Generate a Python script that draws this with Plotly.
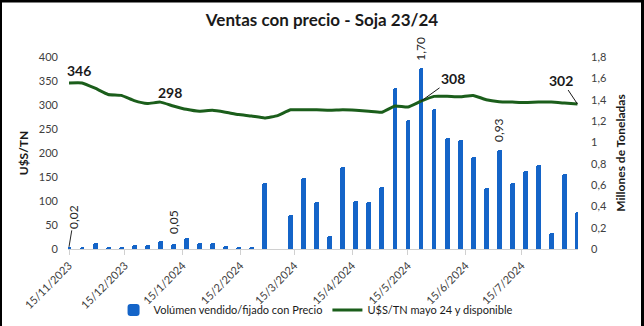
import plotly.graph_objects as go
import pandas as pd

# ---- data ----
start_date = "2023-11-15"
n_weeks = 40
dates = pd.date_range(start_date, periods=n_weeks, freq="7D")

volume_mt = [0.02, 0.02, 0.06, 0.02, 0.02, 0.04, 0.035, 0.075, 0.05, 0.10,
             0.06, 0.06, 0.03, 0.02, 0.02, 0.62, 0.0, 0.32, 0.67, 0.44,
             0.12, 0.77, 0.45, 0.44, 0.58, 1.51, 1.21, 1.70, 1.31, 1.04,
             1.02, 0.86, 0.57, 0.93, 0.62, 0.73, 0.79, 0.15, 0.70, 0.35]

price_usd = [346, 346, 335, 322, 320, 309, 303, 306, 298, 291,
             287, 289, 285, 280, 277, 273, 278, 290, 290, 290,
             289, 290, 289, 287, 285, 298, 296, 308, 318, 318,
             317, 320, 311, 307, 306, 305, 306, 306, 304, 302]

bar_label_idx = [0, 8, 27, 33]
bar_label_txt = ["0,02", "0,05", "1,70", "0,93"]
line_label_idx = [0, 8, 27, 39]
line_label_txt = ["346", "298", "308", "302"]

title_txt = "Ventas con precio - Soja 23/24"
bar_name = "Volúmen vendido/fijado con Precio"
line_name = "U$S/TN mayo 24 y disponible"

FONT = "Lato"
BLUE = "#1464c8"
GREEN = "#1b5e1b"

fig = go.Figure()
fig.add_trace(go.Bar(
    x=dates, y=volume_mt, name=bar_name, yaxis="y",
    width=2.6 * 86400000,
    marker=dict(color=BLUE, cornerradius="50%", line=dict(width=0)),
    hoverinfo="skip",
))
fig.add_trace(go.Scatter(
    x=dates, y=price_usd, name=line_name, yaxis="y2", mode="lines",
    line=dict(color=GREEN, width=3, shape="spline", smoothing=0.4),
    hoverinfo="skip",
))

ann = []
# bar labels (vertical)
bar_cfg = {0: dict(showarrow=True, ax=5, ay=-30),
           8: dict(showarrow=False, yanchor="bottom", yshift=8),
           27: dict(showarrow=False, yanchor="bottom", yshift=5),
           33: dict(showarrow=False, yanchor="bottom", yshift=6)}
for i, t in zip(bar_label_idx, bar_label_txt):
    a = dict(x=dates[i], y=volume_mt[i], xref="x", yref="y", text=t,
             textangle=-90, font=dict(family=FONT, size=12, color="#262626"),
             arrowhead=0, arrowwidth=1, arrowcolor="#262626")
    a.update(bar_cfg[i])
    ann.append(a)

line_cfg = {0: dict(showarrow=False, xshift=10, yshift=12),
            8: dict(showarrow=False, xshift=-3, yshift=13),
            27: dict(showarrow=True, ax=32, ay=-23),
            39: dict(showarrow=True, ax=-16, ay=-24)}
for i, t in zip(line_label_idx, line_label_txt):
    a = dict(x=dates[i], y=price_usd[i], xref="x", yref="y2", text="<b>%s</b>" % t,
             font=dict(family=FONT, size=14, color="#1a1a1a"),
             arrowhead=0, arrowwidth=1, arrowcolor="#1a1a1a")
    a.update(line_cfg[i])
    ann.append(a)

# frame (pixel -> paper conversion)
L, R, T, B = 68, 66, 57, 77
W, H = 644, 326
pw, ph = W - L - R, H - T - B
def px(xp):
    return (xp - L) / pw
def py(yp):
    return (H - B - yp) / ph

shapes = [
    dict(type="rect", xref="paper", yref="paper", x0=px(0), x1=px(2), y0=py(326), y1=py(0),
         fillcolor="black", line=dict(width=0)),
    dict(type="rect", xref="paper", yref="paper", x0=px(0), x1=px(644), y0=py(2.5), y1=py(0),
         fillcolor="black", line=dict(width=0)),
    dict(type="rect", xref="paper", yref="paper", x0=px(641), x1=px(644), y0=py(326), y1=py(0),
         fillcolor="black", line=dict(width=0)),
]

x0 = dates[0] - pd.Timedelta(hours=13)
x1 = dates[-1] + pd.Timedelta(hours=7)

fig.update_layout(
    width=W, height=H,
    margin=dict(l=L, r=R, t=T, b=B, pad=0),
    paper_bgcolor="white", plot_bgcolor="white",
    separators=",.",
    font=dict(family=FONT, size=11, color="#404040"),
    title=dict(text="<b>%s</b>" % title_txt, x=0.5, xanchor="center",
               yref="container", y=1 - 20 / H, yanchor="middle",
               font=dict(family=FONT, size=17, color="#1a1a1a")),
    bargap=0,
    showlegend=True,
    legend=dict(orientation="h", xref="container", x=0.49, xanchor="center",
                yref="container", y=16 / H, yanchor="middle",
                font=dict(family=FONT, size=11, color="#1a1a1a"),
                itemwidth=30, tracegroupgap=0, bgcolor="rgba(0,0,0,0)"),
    xaxis=dict(type="date", range=[x0, x1], tick0="2023-11-15", dtick="M1",
               tickformat="%-d/%-m/%Y", tickangle=-45,
               ticks="outside", ticklen=5, tickcolor="#d0d0d0",
               showline=True, linecolor="#d0d0d0", linewidth=1,
               showgrid=False, zeroline=False,
               tickfont=dict(family=FONT, size=11, color="#404040"),
               automargin=False),
    yaxis=dict(side="right", range=[0, 1.8], dtick=0.2, showgrid=False,
               zeroline=False, showline=False, ticks="",
               ticklabelstandoff=12,
               tickfont=dict(family=FONT, size=11, color="#404040"),
               title=dict(text="<b>Millones de Toneladas</b>", standoff=10,
                          font=dict(family=FONT, size=12, color="#1a1a1a")),
               automargin=False),
    yaxis2=dict(side="left", overlaying="y", range=[0, 400], dtick=50,
                showgrid=False, zeroline=False, showline=False, ticks="",
                ticklabelstandoff=9,
                tickfont=dict(family=FONT, size=11, color="#404040"),
                title=dict(text="<b>U$S/TN</b>", standoff=7,
                           font=dict(family=FONT, size=12, color="#1a1a1a")),
                automargin=False),
    annotations=ann,
    shapes=shapes,
)

fig.write_html("out.html")
